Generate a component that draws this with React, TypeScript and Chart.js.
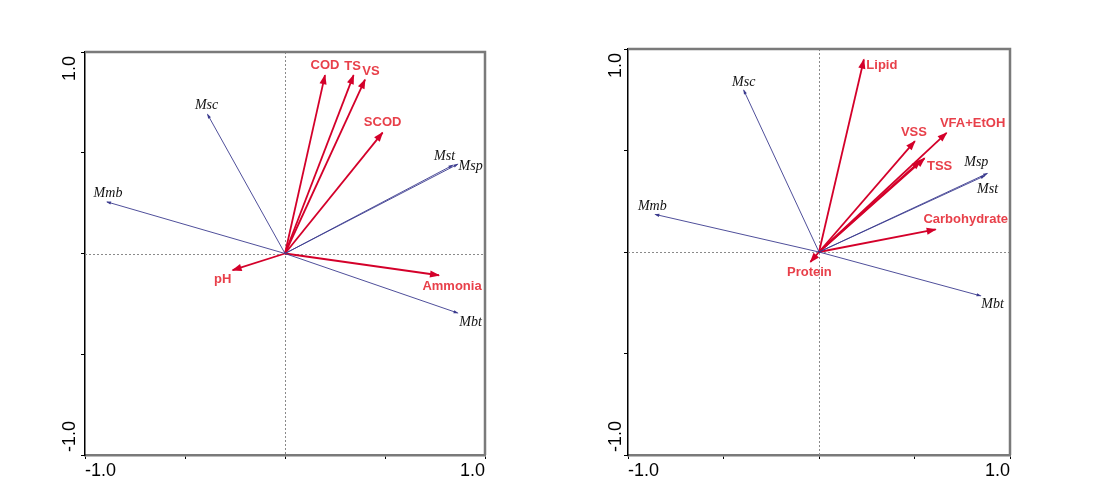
import { useEffect, useRef } from 'react';
import { Chart, registerables } from 'chart.js';

Chart.register(...registerables);

// ---------- Data: left panel ----------
const leftEnvNames = ['COD', 'TS', 'VS', 'SCOD', 'pH', 'Ammonia'];
const leftEnvX = [0.2, 0.343, 0.4, 0.488, -0.262, 0.77];
const leftEnvY = [0.885, 0.885, 0.863, 0.6, -0.083, -0.108];
const leftSpNames = ['Msc', 'Mmb', 'Mst', 'Msp', 'Mbt'];
const leftSpX = [-0.387, -0.89, 0.838, 0.863, 0.863];
const leftSpY = [0.69, 0.256, 0.438, 0.443, -0.295];

// ---------- Data: right panel ----------
const rightEnvNames = ['Lipid', 'VSS', 'VFA+EtOH', '', 'TSS', 'Carbohydrate', 'Protein'];
const rightEnvX = [0.235, 0.502, 0.668, 0.532, 0.553, 0.611, -0.045];
const rightEnvY = [0.948, 0.546, 0.587, 0.45, 0.462, 0.111, -0.049];
const rightSpNames = ['Msc', 'Mmb', 'Msp', 'Mst', 'Mbt'];
const rightSpX = [-0.394, -0.857, 0.881, 0.867, 0.846];
const rightSpY = [0.797, 0.185, 0.387, 0.375, -0.216];

// axis tick labels
const axisTickLabels = ['-1.0', '1.0'];

// ---------- Label placement (pixels offsets from arrow tips) ----------
const leftEnvLabelOffsets = [[0, -10], [-1, -9], [6, -8], [0, -10], [-10, 9], [13, 11]];
const leftSpLabelOffsets = [[-1, -9], [1, -9], [-8, -9], [13, 2], [13, 9]];
const rightEnvLabelOffsets = [[18, 6], [-1, -9], [26, -9], [0, 0], [15, 8], [30, -10], [-1, 10]];
const rightSpLabelOffsets = [[0, -8], [-3, -8], [-11, -11], [3, 13], [12, 8]];

const ENV_LINE = '#d4002a';
const ENV_TEXT = '#e8404a';
const SP_LINE = '#3b3b8e';

function buildDatasets(
  envNames: string[], envX: number[], envY: number[], envOff: number[][],
  spNames: string[], spX: number[], spY: number[], spOff: number[][]
) {
  const ds: any[] = [];
  spNames.forEach((n, i) => {
    ds.push({
      label: n,
      data: [{ x: 0, y: 0 }, { x: spX[i], y: spY[i] }],
      showLine: true,
      borderColor: SP_LINE,
      borderWidth: 0.9,
      pointRadius: 0,
      kind: 'sp',
      off: spOff[i],
    });
  });
  envNames.forEach((n, i) => {
    ds.push({
      label: n,
      data: [{ x: 0, y: 0 }, { x: envX[i], y: envY[i] }],
      showLine: true,
      borderColor: ENV_LINE,
      borderWidth: 1.8,
      pointRadius: 0,
      kind: 'env',
      off: envOff[i],
    });
  });
  return ds;
}

const biplotPlugin = {
  id: 'biplot',
  beforeDatasetsDraw(chart: any) {
    const { ctx, chartArea: a, scales } = chart;
    const x0 = scales.x.getPixelForValue(0);
    const y0 = scales.y.getPixelForValue(0);
    ctx.save();
    ctx.strokeStyle = '#8a8a8a';
    ctx.lineWidth = 1;
    ctx.setLineDash([2, 2]);
    ctx.beginPath();
    ctx.moveTo(Math.round(x0) + 0.5, a.top);
    ctx.lineTo(Math.round(x0) + 0.5, a.bottom);
    ctx.moveTo(a.left, Math.round(y0) + 0.5);
    ctx.lineTo(a.right, Math.round(y0) + 0.5);
    ctx.stroke();
    ctx.restore();
  },
  afterDatasetsDraw(chart: any) {
    const { ctx } = chart;
    chart.data.datasets.forEach((ds: any, i: number) => {
      const meta = chart.getDatasetMeta(i);
      const p0 = meta.data[0];
      const p1 = meta.data[1];
      const ang = Math.atan2(p1.y - p0.y, p1.x - p0.x);
      const isEnv = ds.kind === 'env';
      const len = isEnv ? 9 : 4;
      const half = isEnv ? 3.6 : 1.6;
      ctx.save();
      ctx.fillStyle = isEnv ? ENV_LINE : SP_LINE;
      ctx.translate(p1.x, p1.y);
      ctx.rotate(ang);
      ctx.beginPath();
      ctx.moveTo(1, 0);
      ctx.lineTo(-len, -half);
      ctx.lineTo(-len, half);
      ctx.closePath();
      ctx.fill();
      ctx.restore();
      if (ds.label) {
        ctx.save();
        ctx.textAlign = 'center';
        ctx.textBaseline = 'middle';
        if (isEnv) {
          ctx.font = 'bold 13px "Liberation Sans", Arial, sans-serif';
          ctx.fillStyle = ENV_TEXT;
        } else {
          ctx.font = 'italic 14px "Liberation Serif", "Times New Roman", serif';
          ctx.fillStyle = '#111';
        }
        ctx.fillText(ds.label, p1.x + ds.off[0], p1.y + ds.off[1]);
        ctx.restore();
      }
    });
  },
  afterDraw(chart: any) {
    const { ctx, chartArea: a, scales } = chart;
    const yOff = chart.options.plugins.biplot.yLabelOffset;
    ctx.save();
    ctx.strokeStyle = '#7a7a7a';
    ctx.lineWidth = 2.5;
    ctx.beginPath();
    ctx.moveTo(a.left, a.top);
    ctx.lineTo(a.right, a.top);
    ctx.lineTo(a.right, a.bottom);
    ctx.stroke();
    // tick labels
    ctx.fillStyle = '#000';
    ctx.font = '18px "Liberation Sans", Arial, sans-serif';
    ctx.textBaseline = 'alphabetic';
    const xl = scales.x.getPixelForValue(-1);
    const xr = scales.x.getPixelForValue(1);
    ctx.textAlign = 'left';
    ctx.fillText(axisTickLabels[0], xl, a.bottom + 21);
    ctx.textAlign = 'right';
    ctx.fillText(axisTickLabels[1], xr, a.bottom + 21);
    const yt = scales.y.getPixelForValue(1);
    const yb = scales.y.getPixelForValue(-1);
    const bx = a.left - yOff;
    ctx.save();
    ctx.translate(bx, yt + 4);
    ctx.rotate(-Math.PI / 2);
    ctx.textAlign = 'right';
    ctx.fillText(axisTickLabels[1], 0, 0);
    ctx.restore();
    ctx.save();
    ctx.translate(bx, yb - 3);
    ctx.rotate(-Math.PI / 2);
    ctx.textAlign = 'left';
    ctx.fillText(axisTickLabels[0], 0, 0);
    ctx.restore();
    ctx.restore();
  },
};

function Panel(props: {
  left: number; width: number; padding: any; yLabelOffset: number; datasets: any[];
}) {
  const ref = useRef<HTMLCanvasElement | null>(null);
  useEffect(() => {
    if (!ref.current) return;
    const chart = new Chart(ref.current, {
      type: 'scatter',
      data: { datasets: props.datasets },
      options: {
        responsive: false,
        animation: false,
        devicePixelRatio: 1,
        layout: { padding: props.padding },
        plugins: {
          legend: { display: false },
          tooltip: { enabled: false },
          biplot: { yLabelOffset: props.yLabelOffset },
        } as any,
        scales: {
          x: {
            type: 'linear',
            min: -1,
            max: 1,
            ticks: { display: false, stepSize: 0.5 },
            grid: { drawOnChartArea: false, drawTicks: true, tickLength: 4, color: '#000', lineWidth: 1 },
            border: { color: '#7a7a7a', width: 2.5 },
          },
          y: {
            type: 'linear',
            min: -1,
            max: 1,
            ticks: { display: false, stepSize: 0.5 },
            grid: { drawOnChartArea: false, drawTicks: true, tickLength: 4, color: '#000', lineWidth: 1 },
            border: { color: '#000', width: 1.5 },
          },
        },
      },
      plugins: [biplotPlugin],
    });
    return () => chart.destroy();
  }, []);
  return (
    <div style={{ position: 'absolute', left: props.left, top: 0, width: props.width, height: 501 }}>
      <canvas ref={ref} width={props.width} height={501} style={{ display: 'block', width: props.width, height: 501 }} />
    </div>
  );
}

export default function App() {
  const leftDs = buildDatasets(leftEnvNames, leftEnvX, leftEnvY, leftEnvLabelOffsets,
    leftSpNames, leftSpX, leftSpY, leftSpLabelOffsets);
  const rightDs = buildDatasets(rightEnvNames, rightEnvX, rightEnvY, rightEnvLabelOffsets,
    rightSpNames, rightSpX, rightSpY, rightSpLabelOffsets);
  return (
    <div style={{ position: 'fixed', left: 0, top: 0, width: 1095, height: 501, background: '#fff' }}>
      <Panel left={0} width={547} padding={{ left: 81, right: 62, top: 52, bottom: 42 }} yLabelOffset={10} datasets={leftDs} />
      <Panel left={547} width={548} padding={{ left: 77, right: 85, top: 49, bottom: 42 }} yLabelOffset={7} datasets={rightDs} />
    </div>
  );
}
